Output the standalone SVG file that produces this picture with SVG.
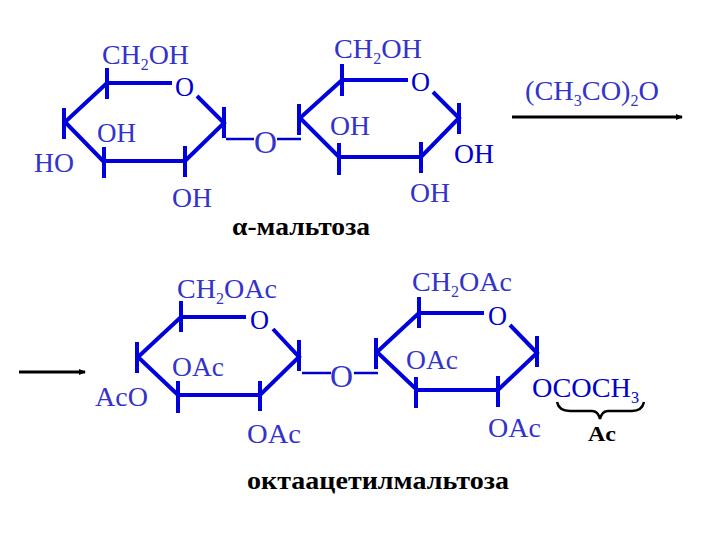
<svg xmlns="http://www.w3.org/2000/svg" width="720" height="540" viewBox="0 0 720 540">
<style>
text{font-family:"Liberation Serif","Times New Roman",serif;white-space:pre}
.l{fill:#3333cc;font-size:28px}
.d{fill:#0000cc;font-size:28px}
.s{font-size:16px}
.t{fill:#000;font-weight:bold;font-size:26px}
.r{fill:none;stroke:#0000dd;stroke-width:4}
.k{fill:none;stroke:#0000dd;stroke-width:4}
.b{fill:none;stroke:#0000cc;stroke-width:2.5}
.a{fill:none;stroke:#000;stroke-width:3}
</style>
<defs><marker id="ah" markerUnits="userSpaceOnUse" markerWidth="8" markerHeight="8" refX="6" refY="4" orient="auto"><path d="M0 1L7 4L0 7Z" fill="#000"/></marker></defs>
<rect width="720" height="540" fill="#fff"/>
<g id="connectors">
<path class="b" d="M226 139H254M277 139H301"/>
<path class="b" d="M302 373H331M354 373H378"/>
<path class="a" d="M512 117H682" marker-end="url(#ah)"/>
<path class="a" d="M19 372H85" marker-end="url(#ah)"/>
<path d="M557 402Q559 411 570 411H592Q598 411 600 419Q602 411 608 411H632Q642 411 644 402" fill="none" stroke="#000" stroke-width="2.5"/>
</g>
<g id="ring1">
<path class="r" d="M172 83H107L65 122L103 161H185L224 123L197 96"/>
<path class="k" d="M64 108V139M107 68V99M224 107V138M185 146V177M104 147V178"/>
<text class="l" x="102" y="64" textLength="87" lengthAdjust="spacingAndGlyphs">CH<tspan class="s" dy="6">2</tspan><tspan dy="-6">OH</tspan></text>
<text class="d" x="175" y="96" textLength="19" lengthAdjust="spacingAndGlyphs">O</text>
<text class="l" x="97" y="142" textLength="39" lengthAdjust="spacingAndGlyphs">OH</text>
<text class="l" x="34" y="172" textLength="40" lengthAdjust="spacingAndGlyphs">HO</text>
<text class="l" x="172" y="207" textLength="40" lengthAdjust="spacingAndGlyphs">OH</text>
</g>
<g id="link1"><text class="l" x="254" y="153" style="font-size:32px" textLength="23" lengthAdjust="spacingAndGlyphs">O</text></g>
<g id="ring2">
<path class="r" d="M408 80H342L300 118L339 157H421L459 118L433 92"/>
<path class="k" d="M299 104V135M342 64V96M459 103V134M421 142V173M339 143V175"/>
<text class="l" x="334" y="58" textLength="88" lengthAdjust="spacingAndGlyphs">CH<tspan class="s" dy="6">2</tspan><tspan dy="-6">OH</tspan></text>
<text class="d" x="411" y="91" textLength="19" lengthAdjust="spacingAndGlyphs">O</text>
<text class="l" x="330" y="135" textLength="40" lengthAdjust="spacingAndGlyphs">OH</text>
<text class="d" x="454" y="163" textLength="40" lengthAdjust="spacingAndGlyphs">OH</text>
<text class="l" x="410" y="202" textLength="40" lengthAdjust="spacingAndGlyphs">OH</text>
</g>
<g id="reagent"><text class="l" x="525" y="100" textLength="134" lengthAdjust="spacingAndGlyphs">(CH<tspan class="s" dy="6">3</tspan><tspan dy="-6">CO)</tspan><tspan class="s" dy="6">2</tspan><tspan dy="-6">O</tspan></text></g>
<g id="title1"><text class="t" x="232" y="235" textLength="138" lengthAdjust="spacingAndGlyphs">α-мальтоза</text></g>
<g id="ring3">
<path class="r" d="M246 317H181L138 357L178 395H260L299 357L273 329"/>
<path class="k" d="M137 342V373M181 301V332M299 340V371M260 381V411M178 381V413"/>
<text class="l" x="177" y="298" textLength="100" lengthAdjust="spacingAndGlyphs">CH<tspan class="s" dy="6">2</tspan><tspan dy="-6">OAc</tspan></text>
<text class="d" x="250" y="329" textLength="19" lengthAdjust="spacingAndGlyphs">O</text>
<text class="l" x="172" y="376" textLength="52" lengthAdjust="spacingAndGlyphs">OAc</text>
<text class="l" x="95" y="406" textLength="53" lengthAdjust="spacingAndGlyphs">AcO</text>
<text class="l" x="247" y="443" textLength="54" lengthAdjust="spacingAndGlyphs">OAc</text>
</g>
<g id="link2"><text class="l" x="330" y="387" style="font-size:32px" textLength="23" lengthAdjust="spacingAndGlyphs">O</text></g>
<g id="ring4">
<path class="r" d="M484 313H419L377 352L417 390H498L537 353L510 325"/>
<path class="k" d="M376 338V369M419 297V328M537 336V367M498 376V407M416 377V408"/>
<text class="l" x="412" y="291" textLength="100" lengthAdjust="spacingAndGlyphs">CH<tspan class="s" dy="6">2</tspan><tspan dy="-6">OAc</tspan></text>
<text class="d" x="488" y="325" textLength="19" lengthAdjust="spacingAndGlyphs">O</text>
<text class="l" x="406" y="369" textLength="52" lengthAdjust="spacingAndGlyphs">OAc</text>
<text class="d" x="532" y="397" textLength="107" lengthAdjust="spacingAndGlyphs">OCOCH<tspan class="s" dy="6">3</tspan></text>
<text class="l" x="488" y="437" textLength="53" lengthAdjust="spacingAndGlyphs">OAc</text>
</g>
<g id="ac"><text x="588" y="441" font-weight="bold" font-size="21" fill="#000" textLength="28" lengthAdjust="spacingAndGlyphs">Ac</text></g>
<g id="title2"><text class="t" x="247" y="489" textLength="262" lengthAdjust="spacingAndGlyphs">октаацетилмальтоза</text></g>
</svg>
